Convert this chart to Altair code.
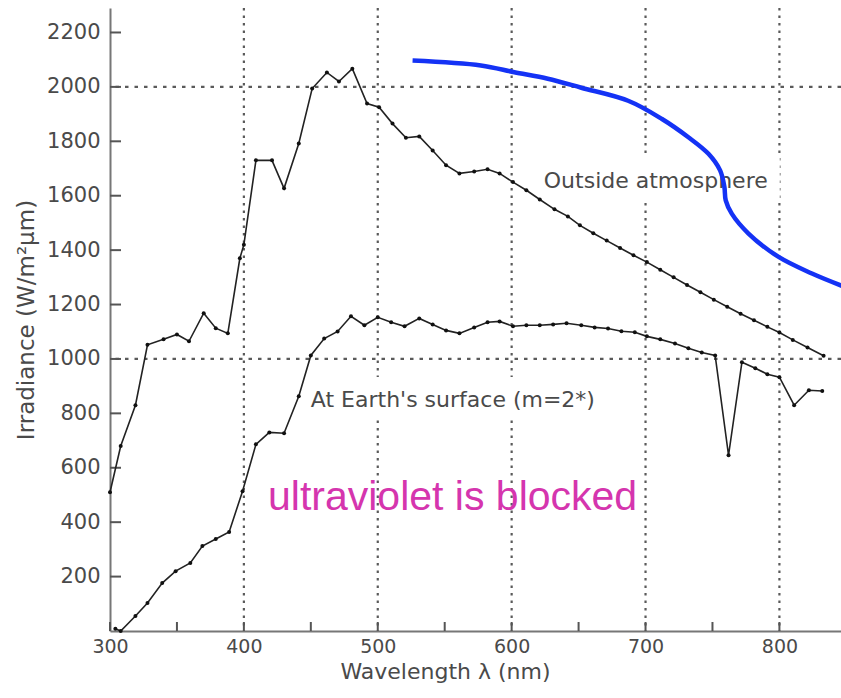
import altair as alt
import pandas as pd

# Solar spectral irradiance, wavelength in nm and irradiance in W/m²µm
outside_nm = [300, 308, 319, 328, 340, 350, 359, 370, 379, 388, 397, 400, 409, 421, 430, 441,
              451, 462, 471, 481, 492, 501, 511, 521, 531, 541, 551, 561, 572, 582, 591, 601,
              611, 621, 632, 642, 651, 661, 671, 681, 691, 701, 711, 721, 731, 741, 751, 761,
              771, 781, 791, 800, 810, 821, 833]
outside_irr = [510, 680, 830, 1052, 1072, 1090, 1065, 1168, 1113, 1094, 1370, 1420, 1730, 1730, 1627, 1792,
               1994, 2053, 2020, 2067, 1939, 1925, 1865, 1813, 1818, 1766, 1712, 1682, 1689, 1697, 1682, 1650,
               1620, 1586, 1550, 1524, 1491, 1462, 1435, 1408, 1381, 1356, 1328, 1300, 1272, 1245, 1218, 1192,
               1166, 1142, 1118, 1097, 1070, 1042, 1012]

surface_nm = [304, 308, 319, 328, 339, 349, 360, 369, 379, 389, 399, 409, 419, 430, 441, 450,
              460, 470, 480, 490, 500, 510, 520, 531, 541, 551, 561, 572, 582, 591, 601, 611,
              621, 631, 641, 652, 662, 672, 682, 692, 701, 711, 722, 732, 742, 752, 762, 772,
              782, 791, 800, 811, 822, 832]
surface_irr = [8, 0, 55, 103, 176, 220, 250, 312, 338, 364, 514, 686, 730, 727, 863, 1013,
               1075, 1101, 1157, 1124, 1153, 1135, 1120, 1149, 1127, 1105, 1094, 1116, 1135, 1138, 1120, 1124,
               1124, 1127, 1131, 1124, 1116, 1112, 1102, 1098, 1083, 1072, 1057, 1039, 1024, 1013, 646, 988,
               966, 944, 933, 830, 885, 882]

# Freehand blue arc drawn over the spectrum
arc_nm = [526, 577, 602, 627, 652, 687, 712, 732, 747, 755.7, 758.9, 759.9, 764.4, 776.9, 799.4, 824.3, 847.6]
arc_val = [2097, 2079, 2054, 2030, 1997, 1949, 1883, 1815, 1754, 1693, 1632, 1583, 1534, 1461, 1375, 1314, 1267]

y_tick_values = [200, 400, 600, 800, 1000, 1200, 1400, 1600, 1800, 2000, 2200]
x_tick_values = [300, 400, 500, 600, 700, 800]
x_minor_ticks = [300, 350, 400, 450, 500, 550, 600, 650, 700, 750, 800]
grid_x = [400, 500, 600, 700, 800]
grid_y = [1000, 2000]

curve_labels = ["Outside atmosphere", "At Earth's surface (m=2*)"]
curve_label_nm = [624, 450]
curve_label_irr = [1630, 823]
curve_label_box_px = [236, 286]  # white backing width for each label

note_text = ["ultraviolet is blocked"]
note_nm = [418]
note_irr = [444]

W, H = 731, 623
FONT = "DejaVu Sans"
INK = "#4a4a4a"
GRID = "#5a5a5a"

xs = alt.Scale(domain=[300, 846], nice=False, zero=False)
ys = alt.Scale(domain=[0, 2290], nice=False, zero=False)

outside = pd.DataFrame({"nm": outside_nm, "irr": outside_irr})
surface = pd.DataFrame({"nm": surface_nm, "irr": surface_irr})
arc = pd.DataFrame({"nm": arc_nm, "irr": arc_val})

x_axis = alt.Axis(values=x_tick_values, format="d", ticks=False, grid=False, domainColor="#777777",
                  domainWidth=2, labelFlush=False,
                  labelFont=FONT, labelFontSize=19, labelColor=INK, labelPadding=6,
                  title="Wavelength λ (nm)", titleFont=FONT, titleFontSize=22, titleFontWeight="normal",
                  titleColor=INK, titleX=335, titleY=47, titleAlign="center", titleBaseline="alphabetic")
y_axis = alt.Axis(values=y_tick_values, format="d", ticks=False, grid=False, domainColor="#777777",
                  domainWidth=2, labelFlush=False,
                  labelFont=FONT, labelFontSize=21, labelColor=INK, labelPadding=10,
                  title="Irradiance (W/m²μm)", titleFont=FONT, titleFontSize=23, titleFontWeight="normal",
                  titleColor=INK, titlePadding=8)


def X(field):
    return alt.X(field, scale=xs, axis=x_axis)


def Y(field):
    return alt.Y(field, scale=ys, axis=y_axis)


# dotted grid at selected wavelengths / irradiance levels
vgrid = alt.Chart(pd.DataFrame({"g": grid_x})).mark_rule(
    color=GRID, strokeWidth=2.2, strokeDash=[2.5, 5]
).encode(x=X("g:Q"))
hgrid = alt.Chart(pd.DataFrame({"g": grid_y})).mark_rule(
    color=GRID, strokeWidth=2.2, strokeDash=[3.5, 6]
).encode(y=Y("g:Q"))

# inward tick marks
yticks = alt.Chart(pd.DataFrame({"t": y_tick_values})).mark_rule(color="#555555", strokeWidth=2).encode(
    y=Y("t:Q"), x=alt.value(0), x2=alt.value(11))
xticks = alt.Chart(pd.DataFrame({"t": x_minor_ticks})).mark_rule(color="#555555", strokeWidth=2).encode(
    x=X("t:Q"), y=alt.value(H), y2=alt.value(H - 9))

# white backing behind curve labels
boxes = []
for txt, lx, ly, bw in zip(curve_labels, curve_label_nm, curve_label_irr, curve_label_box_px):
    boxes.append(
        alt.Chart(pd.DataFrame({"nm": [lx], "irr": [ly]})).mark_rect(
            color="white", xOffset=-4, x2Offset=bw, yOffset=-30, y2Offset=11
        ).encode(x=X("nm:Q"), x2="nm:Q", y=Y("irr:Q"), y2="irr:Q")
    )

line_outside = alt.Chart(outside).mark_line(
    color="#222222", strokeWidth=1.6,
    point=alt.OverlayMarkDef(color="#111111", size=16, filled=True, opacity=1)
).encode(x=X("nm:Q"), y=Y("irr:Q"))

line_surface = alt.Chart(surface).mark_line(
    color="#222222", strokeWidth=1.6,
    point=alt.OverlayMarkDef(color="#111111", size=16, filled=True, opacity=1)
).encode(x=X("nm:Q"), y=Y("irr:Q"))

labels = alt.Chart(pd.DataFrame({"nm": curve_label_nm, "irr": curve_label_irr, "txt": curve_labels})).mark_text(
    align="left", baseline="alphabetic", font=FONT, fontSize=22, color=INK
).encode(x=X("nm:Q"), y=Y("irr:Q"), text="txt:N")

blue_arc = alt.Chart(arc).mark_line(
    color="#1432f5", strokeWidth=4.5, interpolate="catmull-rom", clip=True
).encode(x=X("nm:Q"), y=Y("irr:Q"))

note = alt.Chart(pd.DataFrame({"nm": note_nm, "irr": note_irr, "txt": note_text})).mark_text(
    align="left", baseline="alphabetic", font="Liberation Sans", fontSize=41, color="#d535ae"
).encode(x=X("nm:Q"), y=Y("irr:Q"), text="txt:N")

chart = alt.layer(
    vgrid, hgrid, *boxes, yticks, xticks, line_outside, line_surface, labels, blue_arc, note
).properties(
    width=W, height=H,
    autosize=alt.AutoSizeParams(type="none"),
    padding={"left": 110, "top": 8, "right": 0, "bottom": 67},
    background="white",
).configure_view(stroke=None)

chart.save("out.html", embed_options={"renderer": "svg", "actions": False})
